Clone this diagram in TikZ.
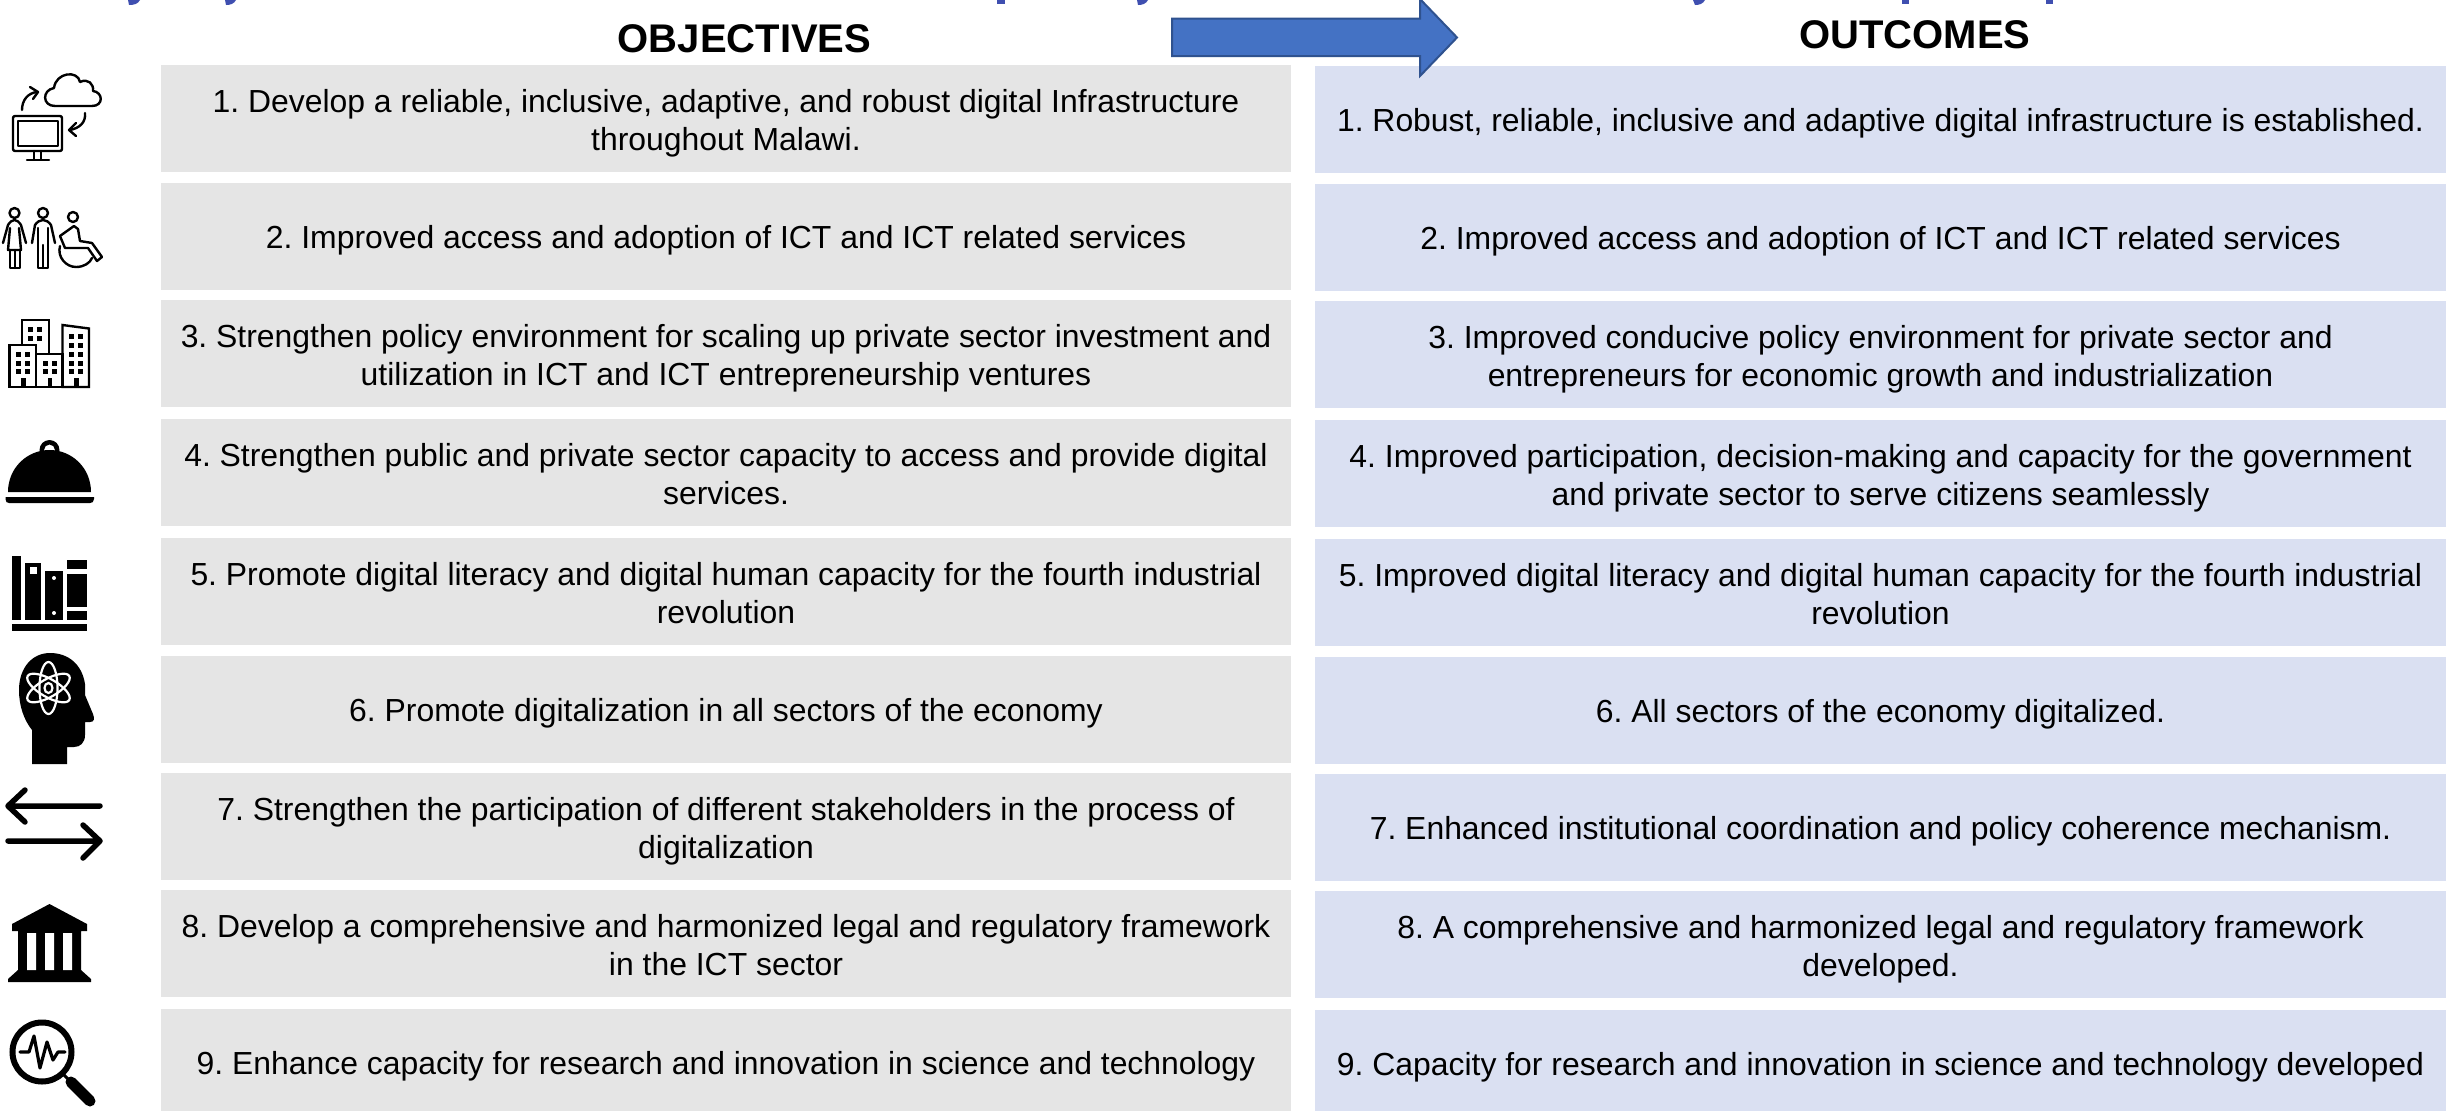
\documentclass[tikz,border=0pt]{standalone}
\usepackage{fontspec}
\setmainfont{Liberation Sans}
\frenchspacing
\definecolor{lgray}{HTML}{E5E5E5}
\definecolor{lblue}{HTML}{DAE0F2}
\definecolor{arrfill}{HTML}{4472C4}
\definecolor{arrline}{HTML}{2F528F}
\definecolor{titleblue}{HTML}{3F4FB0}
\newcommand\cellfirst{\rule{0pt}{30pt}}
\newcommand\celllast{\rule[-7pt]{0pt}{7pt}}
\newcommand\twotop{\rule{0pt}{33pt}}
\tikzset{
  cell/.style={inner sep=0pt,minimum height=107pt,align=center,font=\fontsize{31.9}{38.8}\selectfont,text=black},
  oneline/.style={execute at begin node=\cellfirst,execute at end node=\celllast},
  objbox/.style={cell,fill=lgray,minimum width=1130pt},
  outbox/.style={cell,fill=lblue,minimum width=1131pt},
  head/.style={font=\fontsize{40}{48}\selectfont\bfseries,text=black,inner sep=0pt},
  ico/.style={draw=black,line width=2.4pt,line join=round,line cap=round,fill=none},
  icof/.style={fill=black,draw=none},
  win/.style={fill=black,draw=none},
  frag/.style={fill=titleblue,draw=none},
  fat/.style={draw=black,line width=5.5pt,line cap=round,line join=round},
}
\begin{document}
\begin{tikzpicture}[x=1pt,y=-1pt]
\useasboundingbox (0,0) rectangle (2455,1111);
\fill[white] (0,0) rectangle (2455,1111);
% cut-off title descenders
\fill[frag] (128,0) -- (140,0) .. controls (138,4) and (134,5) .. (129,5) -- cycle;
\fill[frag] (225,0) -- (236,0) .. controls (234,4) and (230,5) .. (226,5) -- cycle;
\fill[frag] (997,0) rectangle (1005,4);
\fill[frag] (1137,0) -- (1148,0) .. controls (1146,4) and (1142,5) .. (1138,5) -- cycle;
\fill[frag] (1693,0) -- (1705,0) .. controls (1703,4) and (1699,5) .. (1695,5) -- cycle;
\fill[frag] (1901.5,0) rectangle (1909,4);
\fill[frag] (2045.5,0) rectangle (2052.5,4);
% headings
\node[head] (hobj) at (744.5,39) {OBJECTIVES};
\node[head] (hout) at (1915,35) {OUTCOMES};
% objectives
\node[objbox] (o1) at (726,118.5) {\twotop 1. Develop a reliable, inclusive, adaptive, and robust digital Infrastructure\\throughout Malawi.\celllast};
\node[objbox,oneline] (o2) at (726,236.5) {2. Improved access and adoption of ICT and ICT related services};
\node[objbox] (o3) at (726,353.5) {\twotop 3. Strengthen policy environment for scaling up private sector investment and\\utilization in ICT and ICT entrepreneurship ventures\celllast};
\node[objbox] (o4) at (726,472.5) {\twotop 4. Strengthen public and private sector capacity to access and provide digital\\services.\celllast};
\node[objbox] (o5) at (726,591.5) {\twotop 5. Promote digital literacy and digital human capacity for the fourth industrial\\revolution\celllast};
\node[objbox,oneline] (o6) at (726,709.5) {6. Promote digitalization in all sectors of the economy};
\node[objbox] (o7) at (726,826.5) {\twotop 7. Strengthen the participation of different stakeholders in the process of\\digitalization\celllast};
\node[objbox] (o8) at (726,943.5) {\twotop 8. Develop a comprehensive and harmonized legal and regulatory framework\\in the ICT sector\celllast};
\node[objbox,oneline] (o9) at (726,1062.5) {9. Enhance capacity for research and innovation in science and technology};
% outcomes
\node[outbox,oneline] (r1) at (1880.5,119.5) {1. Robust, reliable, inclusive and adaptive digital infrastructure is established.};
\node[outbox,oneline] (r2) at (1880.5,237.5) {2. Improved access and adoption of ICT and ICT related services};
\node[outbox] (r3) at (1880.5,354.5) {\twotop 3. Improved conducive policy environment for private sector and\\entrepreneurs for economic growth and industrialization\celllast};
\node[outbox] (r4) at (1880.5,473.5) {\twotop 4. Improved participation, decision-making and capacity for the government\\and private sector to serve citizens seamlessly\celllast};
\node[outbox] (r5) at (1880.5,592.5) {\twotop 5. Improved digital literacy and digital human capacity for the fourth industrial\\revolution\celllast};
\node[outbox,oneline] (r6) at (1880.5,710.5) {6. All sectors of the economy digitalized.};
\node[outbox,oneline] (r7) at (1880.5,827.5) {7. Enhanced institutional coordination and policy coherence mechanism.};
\node[outbox] (r8) at (1880.5,944.5) {\twotop 8. A comprehensive and harmonized legal and regulatory framework\\developed.\celllast};
\node[outbox,oneline] (r9) at (1880.5,1063.5) {9. Capacity for research and innovation in science and technology developed};
% block arrow
\draw[fill=arrfill,draw=arrline,line width=2pt,line join=miter]
  (1172,18.5) -- (1420,18.5) -- (1420,-1) -- (1457,37.5) -- (1420,76) -- (1420,56) -- (1172,56) -- cycle;
% icon 1: cloud and computer
\draw[ico] (55,106) .. controls (42,106) and (42,90) .. (54,88) .. controls (56,72) and (78,70) .. (80,82) .. controls (88,78) and (94,84) .. (93,91) .. controls (103,92) and (104,106) .. (92,106) -- cycle;
\draw[ico,rounded corners=2pt] (13,116) rectangle (62,151);
\draw[ico] (18,121) rectangle (58,146);
\draw[ico] (34,151) -- (34,159) (41,151) -- (41,159) (27,160) -- (49,160);
\draw[ico] (22,110) .. controls (22,100) and (28,93) .. (37,92);
\draw[ico] (30,87) -- (38,92) -- (33,99);
\draw[ico] (85,113) .. controls (86,122) and (80,128) .. (70,130);
\draw[ico] (76,123) -- (69,130) -- (76,136);
% icon 2: people
\draw[ico] (14.5,213) circle (5);
\draw[ico] (3,243) -- (8,225) .. controls (10,222) and (12,220) .. (14.5,220) .. controls (17,220) and (19,222) .. (21,225) -- (26,243);
\draw[ico] (10,228) -- (8,250) -- (21,250) -- (19,228);
\draw[ico] (10,250) -- (10,268) -- (20,268) -- (20,250) (15,250) -- (15,268);
\draw[ico] (43,213) circle (5);
\draw[ico] (32,243) -- (35,225) .. controls (37,222) and (40,220) .. (43,220) .. controls (46,220) and (49,222) .. (51,225) -- (55,243);
\draw[ico] (38,228) -- (38,268) -- (48,268) -- (48,228) (43,245) -- (43,268);
\draw[ico] (73,217) circle (5);
\draw[ico] (60,236) -- (74,226) -- (78,229) -- (80,241) -- (92,243) -- (102,257) -- (97,261) -- (88,248) -- (65,248) -- cycle;
\draw[ico] (60,246) .. controls (57,257) and (66,267) .. (76,267) .. controls (84,267) and (90,263) .. (92,258);
% icon 3: buildings
\draw[ico,line cap=butt,line join=miter] (22,345) -- (22,320) -- (49,320) -- (49,354);
\draw[ico,line cap=butt,line join=miter] (9.5,345) rectangle (36,387);
\draw[ico,line cap=butt,line join=miter] (36,354) rectangle (62.5,387);
\draw[ico,line cap=butt,line join=miter] (62.5,387) -- (62.5,325) -- (89,328.5) -- (89,387) -- cycle;
\foreach \xa in {28,37} \foreach \ya in {327,336} \fill[win] (\xa,\ya) rectangle +(5,5);
\foreach \xa in {16,25} \foreach \ya in {352,361,369} \fill[win] (\xa,\ya) rectangle +(5,5);
\foreach \xa in {43,52} \foreach \ya in {361,369} \fill[win] (\xa,\ya) rectangle +(5,5);
\foreach \xa in {69,78} \foreach \ya in {334,343,352,361,369} \fill[win] (\xa,\ya) rectangle +(5,5);
\foreach \xa in {21,47.5,74} \fill[win] (\xa,378) rectangle +(4.5,9);
% icon 4: cloche
\fill[icof,even odd rule] (49.5,450) circle (10) (49.5,450) circle (5.5);
\fill[icof] (8,492) .. controls (8,468) and (27,450) .. (49.5,450) .. controls (72,450) and (91,468) .. (91,492) -- cycle;
\fill[icof] (5.5,497) -- (94,497) -- (94,499) .. controls (94,502) and (92,503) .. (90,503) -- (9,503) .. controls (7,503) and (5.5,502) .. (5.5,499) -- cycle;
% icon 5: books
\fill[icof] (12,624) rectangle (87,631);
\fill[icof] (12,556) rectangle (21,620);
\fill[icof] (25,563) rectangle (41,620);
\fill[white] (30,567) rectangle (37,574);
\fill[icof] (45,571) rectangle (63,620);
\fill[white] (54,578) circle (2) (54,613) circle (2);
\fill[icof] (67,560) rectangle (87,569);
\fill[icof] (67,574) rectangle (87,607);
\fill[icof] (67,611) rectangle (87,620);
% icon 6: head with atom
\fill[icof] (32,764) -- (32,730) .. controls (24,720) and (19,706) .. (19,690) .. controls (19,668) and (32,653) .. (50,653) .. controls (68,653) and (82,664) .. (85,684) -- (85,695) -- (93,714) .. controls (95,719) and (94,722) .. (90,722) -- (85,722) -- (85,735) .. controls (85,743) and (80,747) .. (74,747) -- (67,747) -- (67,764) -- cycle;
\begin{scope}[shift={(48.5,688)}]
\draw[white,line width=2.2pt,rotate=90] (0,0) ellipse (26 and 9);
\draw[white,line width=2.2pt,rotate=30] (0,0) ellipse (24 and 9);
\draw[white,line width=2.2pt,rotate=-30] (0,0) ellipse (24 and 9);
\draw[white,line width=2.2pt] (0,0) ellipse (4 and 5);
\end{scope}
% icon 7: opposed arrows
\draw[fat] (100,806) -- (8,806) (25,790) -- (8,806) -- (25,822);
\draw[fat] (8,841) -- (100,841) (83,825) -- (100,841) -- (83,858);
% icon 8: institution
\fill[icof] (49.5,904) -- (87,924) -- (87,931) -- (81,931) -- (81,970) -- (91,979) -- (91,982) -- (8,982) -- (8,979) -- (18,970) -- (18,931) -- (12,931) -- (12,924) -- cycle;
\fill[white] (27,933) rectangle (36,970) (45,933) rectangle (54,970) (63,933) rectangle (72,970);
% icon 9: magnifier
\draw[draw=black,line width=6pt] (42,1052) circle (29.5);
\draw[ico,line width=3.2pt] (20,1052) -- (29,1052) -- (34,1036) -- (40,1068) -- (47,1042) -- (53,1060) -- (58,1052) -- (65,1052);
\draw[draw=black,line width=3pt] (62,1073) -- (72,1083);
\draw[draw=black,line width=11pt,line cap=round] (71,1082) -- (90,1101);
\end{tikzpicture}
\end{document}
